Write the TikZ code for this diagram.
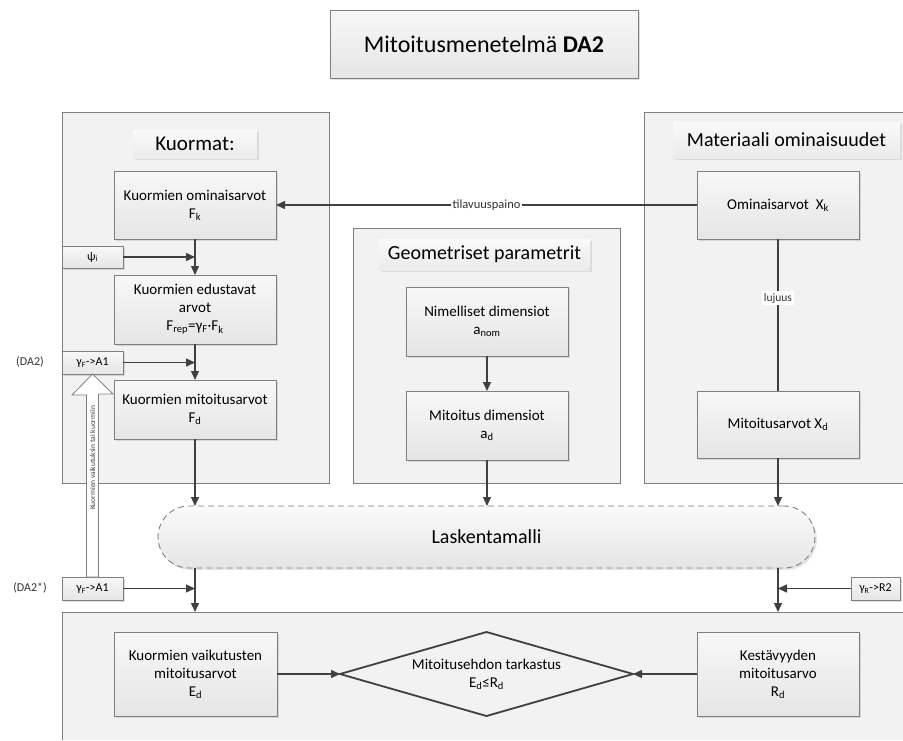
\documentclass[tikz,border=0pt]{standalone}
\usepackage{fontspec}
\setmainfont{Carlito}
\usetikzlibrary{arrows.meta,shadows,shapes.geometric,calc}
\definecolor{lineg}{HTML}{7F7F7F}
\definecolor{arrg}{HTML}{404040}
\definecolor{panelg}{HTML}{F2F2F2}
\tikzset{
  panel/.style={draw=none, fill=panelg, minimum width=#1, anchor=north west, inner sep=0pt, outer sep=0pt},
  panelline/.style={draw=lineg, line width=0.9pt},
  box/.style={draw=lineg, line width=0.9pt, top color=white!97!black, bottom color=white!90!black,
    drop shadow={opacity=0.25, shadow xshift=2pt, shadow yshift=-2pt},
    align=center, inner sep=1pt, outer sep=0pt, font=\fontsize{15}{18}\selectfont},
  smallbox/.style={box, font=\fontsize{12}{14}\selectfont},
  titlebox/.style={draw=none, top color=white!98!black, bottom color=white!92!black,
    drop shadow={opacity=0.2, shadow xshift=2pt, shadow yshift=-2pt},
    inner sep=0pt, outer sep=0pt},
  arr/.style={draw=arrg, line width=1.3pt, -{Triangle[length=9pt,width=8pt]}},
  plainline/.style={draw=arrg, line width=1.3pt},
  lbl/.style={fill=white, inner sep=2pt, font=\fontsize{12.5}{14}\selectfont, text=black!80},
  sidelbl/.style={font=\fontsize{12}{14}\selectfont, text=black!80},
}
\begin{document}
\begin{tikzpicture}[x=1pt,y=-1pt]
\useasboundingbox[fill=white] (0,0) rectangle (903,740);

% title
\node[box, minimum width=308, minimum height=68, font=\fontsize{24}{28}\selectfont] (title) at (484,44) {Mitoitusmenetelmä \textbf{DA2}};

% panels
\node[panel=267, minimum height=371] (pK) at (62,112) {};
\draw[panelline] (pK.north west) rectangle (pK.south east);
\node[panel=267, minimum height=255] (pG) at (353,228) {};
\draw[panelline] (pG.north west) rectangle (pG.south east);
\node[panel=259, minimum height=371] (pM) at (644,112) {};
\draw[panelline] (pM.north east) -- (pM.north west) -- (pM.south west) -- (pM.south east);
\node[panel=841, minimum height=128] (pB) at (62,612) {};
\draw[panelline] (pB.north east) -- (pB.north west) -- (pB.south west);

% panel titles
\node[titlebox, minimum width=123, minimum height=28, font=\fontsize{21}{24}\selectfont] (tK) at (195,144) {Kuormat:};
\node[titlebox, minimum width=211, minimum height=31, font=\fontsize{20}{24}\selectfont] (tG) at (484.5,254.5) {Geometriset parametrit};
\node[titlebox, minimum width=227, minimum height=36, font=\fontsize{20}{24}\selectfont] (tM) at (786.5,140) {Materiaali ominaisuudet};

% Kuormat boxes
\node[box, minimum width=162, minimum height=68] (ko) at (195,205) {Kuormien ominaisarvot\\F\textsubscript{k}};
\node[smallbox, minimum width=61, minimum height=22] (psi) at (92.5,257) {ψ\textsubscript{i}};
\node[box, minimum width=162, minimum height=69] (ke) at (195,309.5) {Kuormien edustavat\\arvot\\F\textsubscript{rep}=γ\textsubscript{F}·F\textsubscript{k}};
\node[smallbox, minimum width=61, minimum height=23] (gF) at (92.5,362.5) {γ\textsubscript{F}->A1};
\node[box, minimum width=162, minimum height=59] (km) at (195,409.5) {Kuormien mitoitusarvot\\F\textsubscript{d}};

% Geometriset boxes
\node[box, minimum width=162, minimum height=69] (gn) at (487,321.5) {Nimelliset dimensiot\\a\textsubscript{nom}};
\node[box, minimum width=162, minimum height=69] (gm) at (487,425.5) {Mitoitus dimensiot\\a\textsubscript{d}};

% Materiaali boxes
\node[box, minimum width=162, minimum height=68] (mo) at (778,205) {Ominaisarvot~ X\textsubscript{k}};
\node[box, minimum width=162, minimum height=67] (mm) at (778,424.5) {Mitoitusarvot X\textsubscript{d}};

% Laskentamalli
\node[draw=lineg, line width=0.9pt, dash pattern=on 6pt off 4pt, rounded corners=31pt,
  top color=white!98!black, bottom color=white!90!black,
  drop shadow={opacity=0.2, shadow xshift=2pt, shadow yshift=-2pt},
  minimum width=657, minimum height=62, inner sep=0pt, outer sep=0pt,
  font=\fontsize{20}{24}\selectfont] (lask) at (486.5,537) {Laskentamalli};

% lower side boxes
\node[smallbox, minimum width=61, minimum height=23] (gF2) at (92.5,588.5) {γ\textsubscript{F}->A1};
\node[smallbox, minimum width=49, minimum height=23] (gR) at (875.5,588.5) {γ\textsubscript{R}->R2};

% bottom panel content
\node[box, minimum width=163, minimum height=84] (ed) at (195.5,674) {Kuormien vaikutusten\\mitoitusarvot\\E\textsubscript{d}};
\node[box, minimum width=162, minimum height=84] (kes) at (778,674) {Kestävyyden\\mitoitusarvo\\R\textsubscript{d}};
\node[diamond, draw=arrg, line width=1.8pt, minimum width=293, minimum height=84, inner sep=0pt, outer sep=0pt,
  shape aspect=3.5, align=center, font=\fontsize{15}{18}\selectfont] (dia) at (486.5,674) {Mitoitusehdon tarkastus\\E\textsubscript{d}≤R\textsubscript{d}};

% side labels
\node[sidelbl] (da2) at (30,362) {(DA2)};
\node[sidelbl] (da2s) at (30,588) {(DA2*)};

% hollow block arrow
\draw[draw=lineg, line width=0.8pt, fill=white]
  ($(gF2.north)+(-6,0)$) -- ++(0,-182) -- ++(-14.5,0) -- (gF.south) -- ($(gF.south)+(20.5,20)$) -- ++(-14.5,0) -- ($(gF2.north)+(6,0)$) -- cycle;
\node[rotate=90, font=\fontsize{7.5}{9}\selectfont, text=black!75] (hollowtxt) at (92.5,458) {Kuormien vaikutuksin tai kuormiin};

% connectors
\draw[arr] (mo.west) -- node[lbl] (tila) {tilavuuspaino} (ko.east);
\draw[arr] (psi.east) -- (psi.east -| ko.south);
\draw[arr] (ko.south) -- (ke.north);
\draw[arr] (gF.east) -- (gF.east -| ke.south);
\draw[arr] (ke.south) -- (km.north);
\draw[arr] (km.south) -- (km.south |- lask.north);
\draw[arr] (gn.south) -- (gm.north);
\draw[arr] (gm.south) -- (gm.south |- lask.north);
\draw[plainline] (mo.south) -- node[lbl, pos=0.39, font=\fontsize{11.5}{13}\selectfont] (luj) {lujuus} (mm.north);
\draw[arr] (mm.south) -- (mm.south |- lask.north);
\draw[arr] (lask.south -| km.south) -- (km.south |- pB.north);
\draw[arr] (gF2.east) -- (gF2.east -| km.south);
\draw[arr] (lask.south -| mm.south) -- (mm.south |- pB.north);
\draw[arr] (gR.west) -- (gR.west -| mm.south);
\draw[arr] (ed.east) -- (dia.west);
\draw[arr] (kes.west) -- (dia.east);
\end{tikzpicture}
\end{document}
